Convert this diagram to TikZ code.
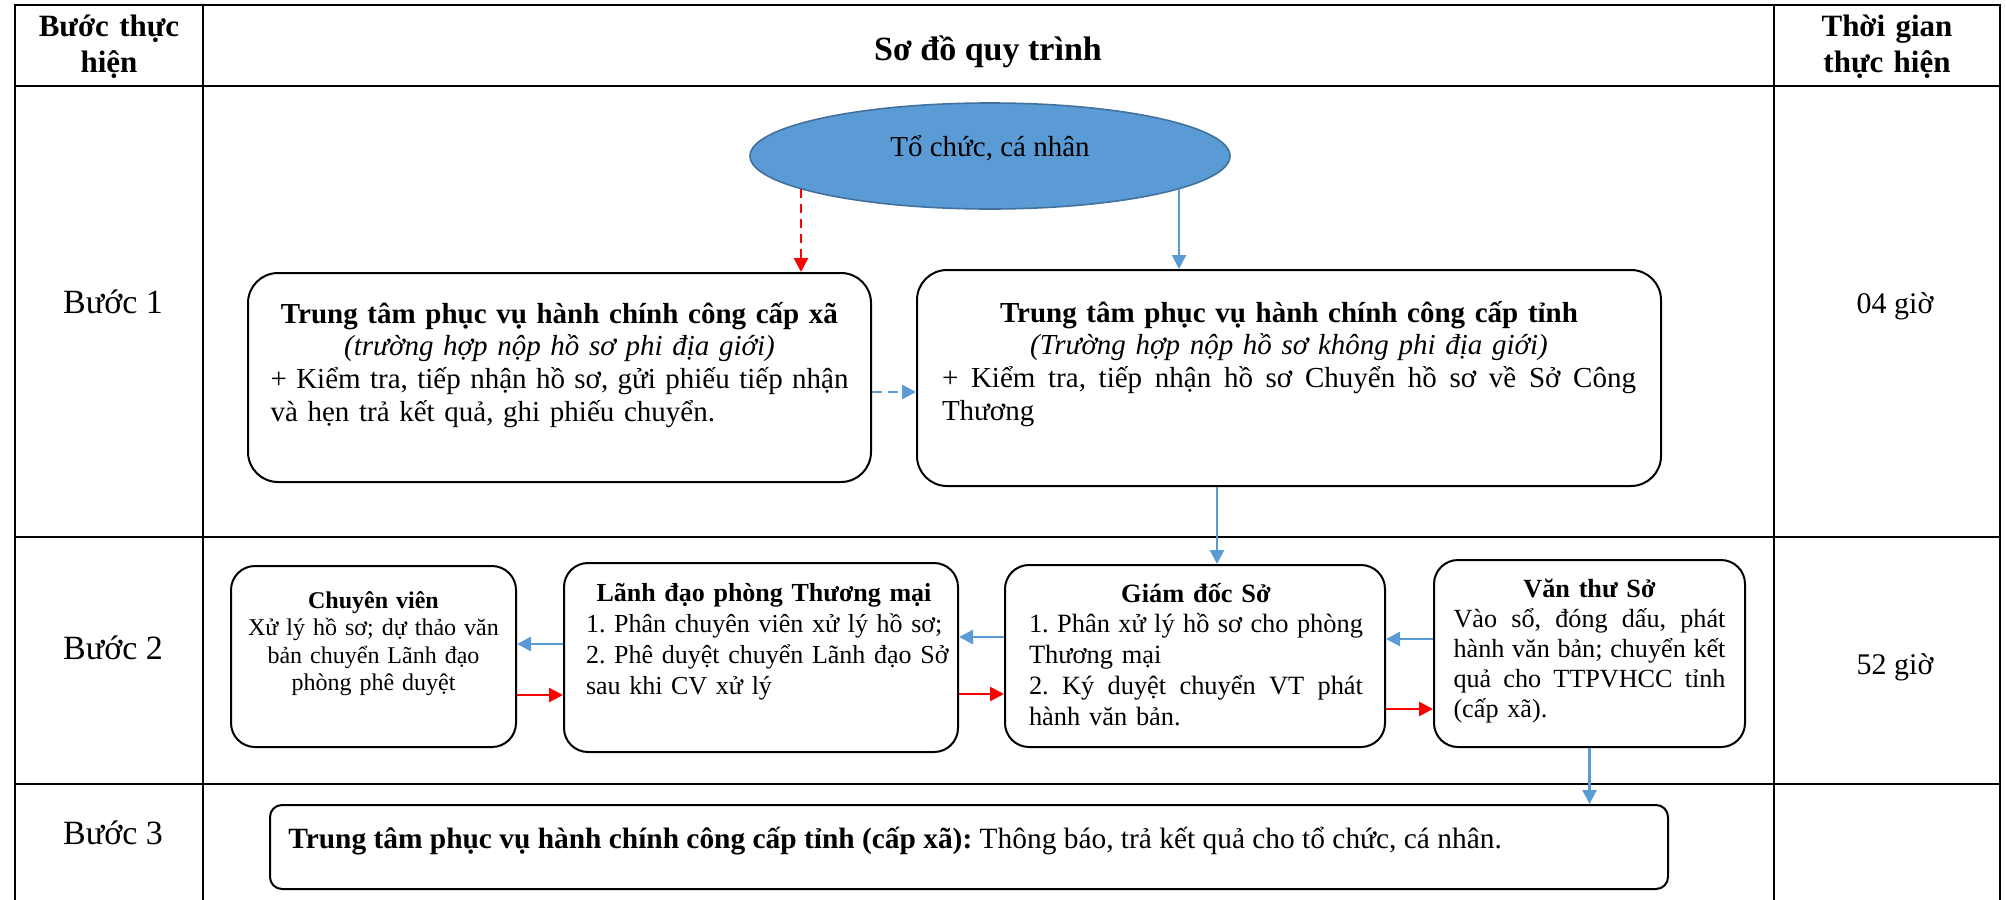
\documentclass[tikz,border=0pt]{standalone}
\usepackage{fontspec}
\setmainfont{Liberation Serif}
\usetikzlibrary{arrows.meta,shapes.geometric,calc}
\definecolor{ablue}{HTML}{5B9BD5}
\definecolor{eborder}{HTML}{41719C}
\definecolor{ared}{HTML}{FF0000}
\frenchspacing
\newcommand\JL[1]{{\spaceskip=0.25em plus 1fil\relax\xspaceskip=0.25em plus 1fil\relax\makebox[\linewidth][s]{#1}}}
\newcommand\CL[1]{\makebox[\linewidth][c]{#1}}
\begin{document}
\begin{tikzpicture}[x=0.5pt,y=-0.5pt,
  tbl/.style={line width=1.2pt,line cap=rect},
  boxa/.style={draw,rounded corners=15pt,line width=1pt,inner sep=0pt},
  boxb/.style={draw,rounded corners=12pt,line width=1pt,inner sep=0pt},
  boxc/.style={draw,rounded corners=6pt,line width=1pt,inner sep=0pt},
  txt/.style={inner sep=0pt,align=left},
  ctxt/.style={inner sep=0pt,align=center},
  tipA/.style={-{Triangle[length=7pt,width=7pt]}},
  barrow/.style={draw=ablue,line width=1.3pt,tipA},
  rarrow/.style={draw=ared,line width=1.3pt,tipA},
  bdash/.style={barrow,dash pattern=on 5pt off 3pt},
  rdash/.style={rarrow,dash pattern=on 4.5pt off 3pt},
  body/.style={font=\fontsize{14.5}{16.4}\selectfont},
  mid/.style={font=\fontsize{13.2}{15.4}\selectfont},
  small/.style={font=\fontsize{12}{13.8}\selectfont},
  lbl/.style={inner sep=0pt,font=\fontsize{17}{19}\selectfont},
  tlbl/.style={inner sep=0pt,font=\fontsize{15}{17}\selectfont}
]
\useasboundingbox (0,0) rectangle (2006,899);

% table grid
\draw[tbl] (15,5) -- (2000,5);
\draw[tbl] (15,86) -- (2000,86);
\draw[tbl] (15,537) -- (2000,537);
\draw[tbl] (15,784) -- (2000,784);
\draw[tbl] (15,5) -- (15,899);
\draw[tbl] (203,5) -- (203,899);
\draw[tbl] (1774,5) -- (1774,899);
\draw[tbl] (2000,5) -- (2000,899);

% header
\node[ctxt,text width=100pt,anchor=base,font=\fontsize{15.5}{18}\selectfont\bfseries] (h1) at (109,37) {Bước thực\\hiện};
\node[ctxt,anchor=base,font=\fontsize{17}{19}\selectfont\bfseries] (h2) at (988,61) {Sơ đồ quy trình};
\node[ctxt,text width=100pt,anchor=base,font=\fontsize{15.5}{18}\selectfont\bfseries] (h3) at (1887,37) {Thời gian\\thực hiện};

% step labels and times
\node[lbl,anchor=base] (s1) at (113,313) {Bước 1};
\node[lbl,anchor=base] (s2) at (113,659) {Bước 2};
\node[lbl,anchor=base] (s3) at (113,844) {Bước 3};
\node[tlbl,anchor=base] (t1) at (1895,313) {04 giờ};
\node[tlbl,anchor=base] (t2) at (1895,674) {52 giờ};

% ellipse
\node[ellipse,draw=eborder,fill=ablue,line width=0.8pt,minimum width=240pt,minimum height=53pt,inner sep=0pt] (org) at (990,156) {};
\node[inner sep=0pt,anchor=base,body] (orgt) at (990,156) {Tổ chức, cá nhân};

% step 1 boxes
\node[boxa,minimum width=311.5pt,minimum height=104.5pt] (b1) at (559.5,377.5) {};
\node[txt,body,text width=289pt,anchor=base] (b1t) at (559.5,323) {%
\CL{\bfseries Trung tâm phục vụ hành chính công cấp xã}\\
\CL{\itshape (trường hợp nộp hồ sơ phi địa giới)}\\
\JL{+ Kiểm tra, tiếp nhận hồ sơ, gửi phiếu tiếp nhận}\\
và hẹn trả kết quả, ghi phiếu chuyển.};

\node[boxa,minimum width=372pt,minimum height=108pt] (b2) at (1289,378) {};
\node[txt,body,text width=347pt,anchor=base] (b2t) at (1289,322) {%
\CL{\bfseries Trung tâm phục vụ hành chính công cấp tỉnh}\\
\CL{\itshape (Trường hợp nộp hồ sơ không phi địa giới)}\\
\JL{+ Kiểm tra, tiếp nhận hồ sơ Chuyển hồ sơ về Sở Công}\\
Thương};

% step 2 boxes
\node[boxb,minimum width=142.5pt,minimum height=90.5pt] (cv) at (373.5,656.5) {};
\node[ctxt,small,text width=136pt,anchor=base] (cvt) at (373.5,608) {%
{\bfseries Chuyên viên}\\
\mbox{Xử lý hồ sơ; dự thảo văn}\\
\mbox{bản chuyển Lãnh đạo}\\
\mbox{phòng phê duyệt}};

\node[boxb,minimum width=197pt,minimum height=94.5pt] (ld) at (761,657.5) {};
\node[txt,font=\fontsize{13}{15.6}\selectfont,text width=178pt,anchor=base] (ldt) at (764,601) {%
\CL{\bfseries Lãnh đạo phòng Thương mại}\\
\mbox{1. Phân chuyên viên xử lý hồ sơ;}\\
\mbox{2. Phê duyệt chuyển Lãnh đạo Sở}\\
\mbox{sau khi CV xử lý}};

\node[boxb,minimum width=190pt,minimum height=91pt] (gd) at (1195,656) {};
\node[txt,mid,text width=167pt,anchor=base] (gdt) at (1196,602) {%
\CL{\bfseries Giám đốc Sở}\\
\JL{1. Phân xử lý hồ sơ cho phòng}\\
Thương mại\\
\JL{2. Ký duyệt chuyển VT phát}\\
hành văn bản.};

\node[boxb,minimum width=155.5pt,minimum height=93.5pt] (vt) at (1589.5,653.5) {};
\node[txt,font=\fontsize{13.1}{15}\selectfont,text width=136pt,anchor=base] (vtt) at (1589.5,597) {%
\CL{\bfseries Văn thư Sở}\\
\JL{Vào sổ, đóng dấu, phát}\\
\JL{hành văn bản; chuyển kết}\\
\JL{quả cho TTPVHCC tỉnh}\\
(cấp xã).};

% step 3 box
\node[boxc,minimum width=699pt,minimum height=42pt] (b3) at (969,847) {};
\node[inner sep=0pt,font=\fontsize{14.7}{16.4}\selectfont,anchor=base west] (b3t) at (288,848) {\textbf{Trung tâm phục vụ hành chính công cấp tỉnh (cấp xã):} Thông báo, trả kết quả cho tổ chức, cá nhân.};

% connectors
\draw[rdash] (org.190) -- (org.190 |- b1.north);
\draw[barrow] (org.350) -- (org.350 |- b2.north);
\draw[bdash] (b1.east |- 0,392) -- (b2.west |- 0,392);
\draw[barrow] (b2.south -| 1217,0) -- (gd.north -| 1217,0);

\draw[barrow] (gd.west |- 0,637) -- (ld.east |- 0,637);
\draw[rarrow] (ld.east |- 0,694) -- (gd.west |- 0,694);
\draw[barrow] (ld.west |- 0,644) -- (cv.east |- 0,644);
\draw[rarrow] (cv.east |- 0,695) -- (ld.west |- 0,695);
\draw[barrow] (vt.west |- 0,639) -- (gd.east |- 0,639);
\draw[rarrow] (gd.east |- 0,709) -- (vt.west |- 0,709);
\draw[barrow] (vt.south) -- (vt.south |- b3.north);
\end{tikzpicture}
\end{document}
